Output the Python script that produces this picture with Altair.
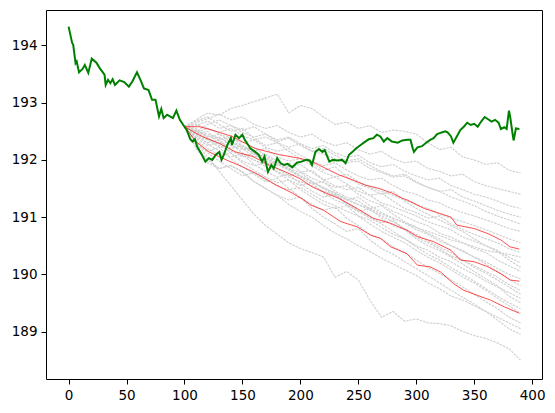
import altair as alt
import pandas as pd

# observed price path (green)
green_x = [0, 3, 4, 6, 7, 9, 12, 14, 17, 20, 24, 27, 31, 32, 34, 36, 38, 40, 44, 48,
           52, 55, 59, 62, 65, 69, 72, 75, 78, 80, 82, 85, 90, 93, 96, 100, 102, 105, 107, 109,
           111, 115, 118, 121, 124, 127, 130, 132, 134, 137, 140, 141, 144, 147, 150, 152, 154, 157, 161, 164,
           167, 169, 172, 175, 177, 180, 183, 186, 189, 193, 197, 201, 205, 208, 210, 213, 216, 219, 221, 225,
           228, 232, 236, 239, 242, 245, 248, 252, 256, 259, 263, 266, 269, 272, 275, 279, 284, 288, 292, 295,
           297, 298, 301, 305, 308, 312, 315, 318, 322, 325, 327, 330, 332, 335, 338, 341, 344, 347, 350, 353,
           356, 359, 362, 365, 368, 371, 373, 376, 378, 380, 381, 383, 384, 386, 389]
green_y = [194.33, 194.05, 194.01, 193.69, 193.72, 193.53, 193.59, 193.66, 193.52, 193.77, 193.70, 193.60, 193.49, 193.31, 193.40, 193.34, 193.41, 193.31, 193.39, 193.36,
           193.28, 193.37, 193.53, 193.40, 193.25, 193.22, 193.05, 193.05, 192.76, 192.89, 192.73, 192.79, 192.73, 192.86, 192.70, 192.58, 192.52, 192.36, 192.32, 192.36,
           192.23, 192.09, 191.97, 192.03, 192.00, 192.09, 192.14, 192.00, 192.09, 192.26, 192.38, 192.26, 192.44, 192.38, 192.44, 192.35, 192.29, 192.20, 192.14, 192.09,
           191.97, 192.06, 191.79, 191.91, 191.85, 192.03, 191.94, 191.91, 191.93, 191.87, 191.95, 191.97, 192.00, 191.99, 191.91, 192.14, 192.19, 192.14, 192.17, 191.97,
           192.00, 191.99, 192.00, 191.94, 192.09, 192.14, 192.20, 192.26, 192.32, 192.36, 192.38, 192.44, 192.41, 192.32, 192.38, 192.32, 192.30, 192.34, 192.35, 192.35,
           192.20, 192.14, 192.22, 192.24, 192.29, 192.35, 192.38, 192.45, 192.48, 192.50, 192.48, 192.41, 192.30, 192.41, 192.52, 192.58, 192.65, 192.61, 192.63, 192.58,
           192.67, 192.75, 192.71, 192.67, 192.70, 192.65, 192.54, 192.57, 192.54, 192.86, 192.76, 192.47, 192.34, 192.55, 192.54]

# red summary lines
upper_x = [100, 113, 124, 141, 161, 182, 199, 210, 222, 233, 245, 256, 268, 279, 288, 292, 307, 321, 330, 335, 350, 362, 373, 381, 389]
upper_y = [192.58, 192.58, 192.52, 192.41, 192.20, 192.09, 192.03, 191.97, 191.85, 191.74, 191.65, 191.56, 191.50, 191.42, 191.33, 191.30, 191.15, 191.06, 191.00, 190.86, 190.80, 190.71, 190.60, 190.48, 190.44]
mid_x = [100, 115, 130, 144, 159, 173, 187, 199, 210, 222, 233, 249, 263, 278, 292, 301, 315, 330, 338, 350, 362, 373, 381, 389]
mid_y = [192.58, 192.41, 192.29, 192.14, 192.06, 191.91, 191.79, 191.68, 191.53, 191.42, 191.33, 191.15, 190.98, 190.89, 190.77, 190.66, 190.57, 190.42, 190.25, 190.22, 190.13, 190.01, 189.90, 189.88]
lower_x = [100, 110, 121, 136, 150, 164, 179, 193, 203, 209, 220, 235, 249, 261, 269, 278, 292, 301, 312, 321, 332, 341, 353, 364, 376, 389]
lower_y = [192.58, 192.32, 192.14, 192.00, 191.88, 191.74, 191.56, 191.42, 191.30, 191.21, 191.12, 190.92, 190.83, 190.68, 190.63, 190.48, 190.36, 190.16, 190.13, 190.04, 189.84, 189.72, 189.63, 189.55, 189.43, 189.32]

# simulated paths (gray)
gray_x = list(range(100, 391, 10))
gray_paths = [
    [192.58, 192.70, 192.82, 192.78, 192.90, 192.95, 193.02, 193.08, 193.15, 192.82, 192.95, 192.90, 192.75, 192.62, 192.66, 192.55, 192.60, 192.48, 192.52, 192.50, 192.45, 192.30, 192.18, 192.22, 192.05, 192.00, 191.92, 191.95, 191.82, 191.77],
    [192.58, 192.65, 192.72, 192.80, 192.70, 192.75, 192.62, 192.55, 192.60, 192.48, 192.40, 192.45, 192.32, 192.25, 192.30, 192.18, 192.10, 192.15, 192.02, 191.95, 191.98, 191.85, 191.80, 191.72, 191.75, 191.62, 191.55, 191.50, 191.45, 191.40],
    [192.58, 192.50, 192.62, 192.70, 192.60, 192.52, 192.58, 192.45, 192.35, 192.40, 192.28, 192.20, 192.25, 192.12, 192.05, 192.08, 191.95, 191.88, 191.92, 191.80, 191.72, 191.65, 191.68, 191.55, 191.48, 191.40, 191.35, 191.28, 191.20, 191.15],
    [192.58, 192.62, 192.55, 192.48, 192.55, 192.42, 192.35, 192.40, 192.30, 192.22, 192.28, 192.15, 192.10, 192.02, 191.95, 191.98, 191.85, 191.78, 191.70, 191.72, 191.60, 191.52, 191.45, 191.48, 191.35, 191.28, 191.20, 191.12, 191.05, 191.00],
    [192.58, 192.48, 192.55, 192.45, 192.38, 192.30, 192.35, 192.22, 192.15, 192.20, 192.08, 191.98, 191.90, 191.95, 191.82, 191.72, 191.65, 191.68, 191.55, 191.45, 191.40, 191.30, 191.25, 191.15, 191.08, 191.02, 190.95, 190.88, 190.80, 190.75],
    [192.58, 192.52, 192.40, 192.45, 192.32, 192.25, 192.15, 192.20, 192.05, 191.98, 192.02, 191.90, 191.78, 191.70, 191.75, 191.62, 191.52, 191.45, 191.38, 191.30, 191.22, 191.15, 191.05, 190.98, 190.92, 190.85, 190.78, 190.70, 190.62, 190.55],
    [192.58, 192.42, 192.35, 192.40, 192.25, 192.18, 192.22, 192.08, 191.95, 191.88, 191.92, 191.78, 191.65, 191.70, 191.58, 191.45, 191.38, 191.42, 191.28, 191.15, 191.08, 190.98, 191.02, 190.88, 190.78, 190.70, 190.62, 190.55, 190.45, 190.38],
    [192.58, 192.55, 192.38, 192.28, 192.32, 192.20, 192.05, 192.10, 191.98, 191.85, 191.78, 191.82, 191.65, 191.55, 191.48, 191.52, 191.38, 191.25, 191.18, 191.10, 191.02, 190.92, 190.85, 190.78, 190.65, 190.58, 190.50, 190.42, 190.30, 190.20],
    [192.58, 192.45, 192.50, 192.32, 192.20, 192.25, 192.10, 191.98, 191.90, 191.95, 191.80, 191.68, 191.60, 191.52, 191.55, 191.40, 191.28, 191.22, 191.10, 191.02, 190.92, 190.85, 190.72, 190.65, 190.55, 190.45, 190.38, 190.25, 190.15, 190.05],
    [192.58, 192.40, 192.30, 192.35, 192.18, 192.05, 192.12, 191.95, 191.85, 191.72, 191.78, 191.62, 191.50, 191.42, 191.30, 191.35, 191.20, 191.08, 190.98, 190.90, 190.78, 190.70, 190.58, 190.50, 190.40, 190.30, 190.22, 190.10, 190.00, 189.92],
    [192.58, 192.50, 192.35, 192.22, 192.28, 192.12, 192.00, 191.92, 191.98, 191.82, 191.70, 191.58, 191.62, 191.45, 191.35, 191.28, 191.15, 191.20, 191.05, 190.92, 190.82, 190.72, 190.62, 190.50, 190.42, 190.30, 190.18, 190.05, 189.92, 189.80],
    [192.58, 192.38, 192.25, 192.30, 192.12, 191.98, 191.90, 191.95, 191.78, 191.65, 191.55, 191.60, 191.42, 191.30, 191.22, 191.10, 191.15, 190.98, 190.85, 190.78, 190.65, 190.55, 190.45, 190.32, 190.25, 190.12, 190.02, 189.90, 189.78, 189.65],
    [192.58, 192.45, 192.28, 192.15, 192.05, 192.10, 191.92, 191.80, 191.70, 191.75, 191.58, 191.45, 191.35, 191.40, 191.22, 191.10, 190.98, 190.90, 190.95, 190.78, 190.62, 190.50, 190.42, 190.30, 190.18, 190.05, 189.92, 189.80, 189.62, 189.50],
    [192.58, 192.35, 192.20, 192.08, 192.12, 191.95, 191.82, 191.70, 191.60, 191.65, 191.48, 191.35, 191.22, 191.15, 191.20, 191.02, 190.88, 190.75, 190.65, 190.55, 190.42, 190.30, 190.20, 190.08, 189.95, 189.85, 189.72, 189.58, 189.45, 189.32],
    [192.58, 192.30, 192.15, 192.22, 192.02, 191.88, 191.75, 191.62, 191.68, 191.50, 191.35, 191.22, 191.12, 191.18, 190.98, 190.85, 190.70, 190.62, 190.48, 190.38, 190.25, 190.12, 190.02, 189.90, 189.78, 189.65, 189.52, 189.40, 189.25, 189.15],
    [192.58, 192.22, 192.00, 191.85, 191.90, 191.78, 191.62, 191.50, 191.38, 191.30, 191.35, 191.15, 191.00, 190.88, 190.75, 190.80, 190.60, 190.45, 190.35, 190.22, 190.10, 189.98, 189.85, 189.72, 189.60, 189.48, 189.35, 189.20, 189.05, 188.95],
    [192.58, 192.30, 192.05, 191.80, 191.55, 191.30, 191.05, 190.85, 190.70, 190.55, 190.45, 190.38, 190.30, 189.95, 190.05, 189.90, 189.55, 189.25, 189.35, 189.18, 189.22, 189.15, 189.14, 189.10, 189.00, 188.93, 188.88, 188.80, 188.70, 188.50],
    [192.58, 192.60, 192.68, 192.55, 192.60, 192.48, 192.40, 192.45, 192.32, 192.38, 192.25, 192.15, 192.20, 192.08, 191.98, 192.02, 191.90, 191.80, 191.72, 191.75, 191.62, 191.52, 191.45, 191.35, 191.28, 191.20, 191.10, 191.02, 190.95, 190.88],
    [192.58, 192.68, 192.75, 192.62, 192.50, 192.55, 192.38, 192.25, 192.30, 192.15, 192.02, 191.95, 191.82, 191.88, 191.70, 191.58, 191.50, 191.40, 191.45, 191.28, 191.15, 191.05, 190.95, 190.85, 190.75, 190.62, 190.50, 190.40, 190.25, 190.12],
    [192.58, 192.32, 192.12, 191.98, 191.85, 191.72, 191.78, 191.65, 191.55, 191.48, 191.52, 191.40, 191.28, 191.20, 191.10, 191.02, 190.95, 190.82, 190.70, 190.62, 190.50, 190.42, 190.30, 190.22, 190.10, 190.00, 189.88, 189.78, 189.68, 189.58],
    [192.58, 192.50, 192.42, 192.35, 192.40, 192.25, 192.12, 192.05, 191.92, 191.85, 191.72, 191.62, 191.50, 191.38, 191.25, 191.12, 191.00, 190.88, 190.75, 190.62, 190.48, 190.35, 190.25, 190.12, 190.00, 189.88, 189.75, 189.62, 189.50, 189.40],
    [192.58, 192.20, 191.95, 191.85, 191.90, 191.80, 191.62, 191.50, 191.38, 191.22, 191.10, 191.00, 190.85, 190.72, 190.62, 190.50, 190.40, 190.28, 190.18, 190.08, 189.98, 189.85, 189.75, 189.62, 189.55, 189.45, 189.35, 189.25, 189.15, 189.05],
    [192.58, 192.45, 192.38, 192.25, 192.15, 192.08, 192.00, 191.88, 191.80, 191.70, 191.62, 191.55, 191.45, 191.38, 191.30, 191.22, 191.15, 191.05, 190.98, 190.90, 190.82, 190.75, 190.68, 190.60, 190.55, 190.48, 190.42, 190.38, 190.35, 190.30],
    [192.58, 192.52, 192.45, 192.38, 192.30, 192.22, 192.12, 192.02, 191.92, 191.82, 191.72, 191.62, 191.52, 191.42, 191.32, 191.22, 191.12, 191.02, 190.92, 190.80, 190.70, 190.58, 190.48, 190.38, 190.25, 190.15, 190.05, 189.95, 189.82, 189.72],
]

gray_rows = []
for i, path in enumerate(gray_paths):
    for x, y in zip(gray_x, path):
        gray_rows.append({"x": x, "y": y, "path": i})
gray_df = pd.DataFrame(gray_rows)

red_rows = []
for name, xs, ys in [("upper", upper_x, upper_y), ("mid", mid_x, mid_y), ("lower", lower_x, lower_y)]:
    for x, y in zip(xs, ys):
        red_rows.append({"x": x, "y": y, "line": name})
red_df = pd.DataFrame(red_rows)

green_df = pd.DataFrame({"x": green_x, "y": green_y})

x_enc = alt.X("x:Q", scale=alt.Scale(domain=[-19.5, 408.5], nice=False, zero=False),
              axis=alt.Axis(values=list(range(0, 401, 50)), title=None))
y_enc = alt.Y("y:Q", scale=alt.Scale(domain=[188.17, 194.62], nice=False, zero=False),
              axis=alt.Axis(values=[189, 190, 191, 192, 193, 194], title=None))

gray = alt.Chart(gray_df).mark_line(
    color="#cfcfcf", strokeWidth=1.1, strokeDash=[2.5, 1]
).encode(x_enc, y_enc, detail="path:N")

red = alt.Chart(red_df).mark_line(
    color="red", strokeWidth=0.7
).encode(x_enc, y_enc, detail="line:N")

green = alt.Chart(green_df).mark_line(
    color="green", strokeWidth=2
).encode(x_enc, y_enc)

chart = alt.layer(gray, red, green).properties(
    width=496,
    height=369,
    autosize=alt.AutoSizeParams(type="none"),
    padding={"left": 38, "top": 2, "right": 5, "bottom": 30},
).configure_view(
    stroke="black", strokeWidth=1
).configure_axis(
    grid=False,
    domain=False,
    tickColor="black",
    tickSize=5,
    tickWidth=1,
    labelColor="black",
    labelFont="DejaVu Sans",
    labelFontSize=13.5,
    labelPadding=4,
)

chart.save("out.html", embed_options={"renderer": "svg", "actions": False})
